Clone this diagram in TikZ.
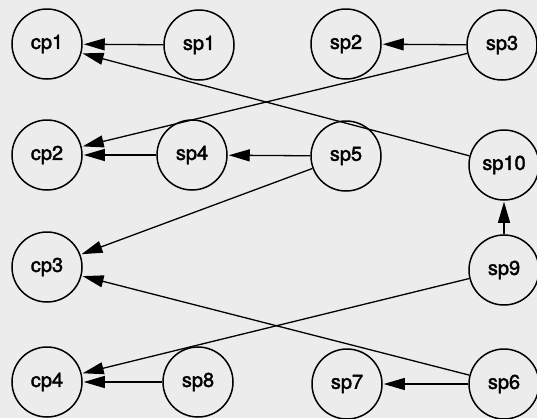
\documentclass[tikz,border=0pt]{standalone}
\usepackage{fontspec}
\setmainfont{TeX Gyre Heros}
\newfontfamily\heavyfont[FakeBold=2]{TeX Gyre Heros}
\usetikzlibrary{arrows.meta}
\definecolor{bg}{RGB}{236,236,236}
\begin{document}
\begin{tikzpicture}[x=1pt,y=-1pt,
  pnode/.style={draw,circle,line width=1.5pt,minimum size=70pt,inner sep=0pt,font=\heavyfont\fontsize{20}{20}\selectfont},
  edge/.style={line width=1.3pt,-{Triangle[length=21pt,width=12pt]},shorten >=1pt}]
\fill[bg] (0,0) rectangle (537,418);
\useasboundingbox (0,0) rectangle (537,418);
\node[pnode] (cp1) at (47,44) {cp1};
\node[pnode] (sp1) at (199,45) {sp1};
\node[pnode] (sp2) at (346,44) {sp2};
\node[pnode] (sp3) at (502,45) {sp3};
\node[pnode] (cp2) at (47,155) {cp2};
\node[pnode] (sp4) at (192,155) {sp4};
\node[pnode] (sp5) at (346,156) {sp5};
\node[pnode] (sp10) at (504,165) {sp10};
\node[pnode] (cp3) at (47,267) {cp3};
\node[pnode] (sp9) at (504,270) {sp9};
\node[pnode] (cp4) at (47,382) {cp4};
\node[pnode] (sp8) at (198,382) {sp8};
\node[pnode] (sp7) at (347,384) {sp7};
\node[pnode] (sp6) at (504,384) {sp6};
\draw[edge] (sp1) -- (cp1);
\draw[edge] (sp10) -- (cp1);
\draw[edge] (sp3) -- (sp2);
\draw[edge] (sp3) -- (cp2);
\draw[edge] (sp4) -- (cp2);
\draw[edge] (sp5) -- (sp4);
\draw[edge] (sp5) -- (cp3);
\draw[edge] (sp9) -- (sp10);
\draw[edge] (sp9) -- (cp4);
\draw[edge] (sp6) -- (cp3);
\draw[edge] (sp6) -- (sp7);
\draw[edge] (sp8) -- (cp4);
\end{tikzpicture}
\end{document}
